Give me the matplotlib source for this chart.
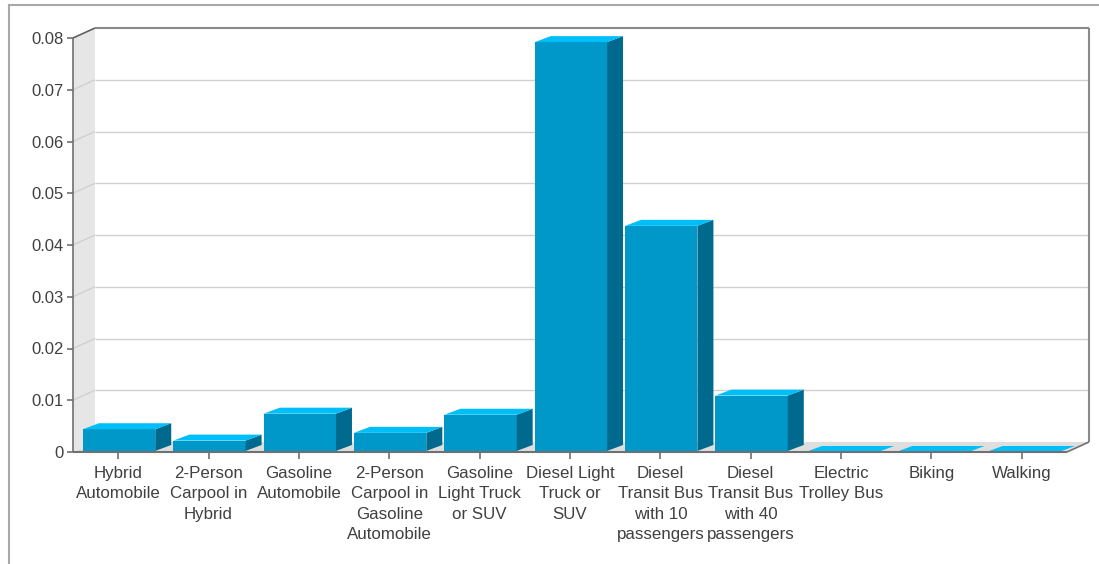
import numpy as np
import matplotlib.pyplot as plt
from matplotlib.patches import Polygon
from matplotlib.lines import Line2D

plt.rcParams['font.family'] = ['Liberation Sans', 'DejaVu Sans']

# emissions per passenger-mile by travel mode
modes = [
    "Hybrid\nAutomobile",
    "2-Person\nCarpool in\nHybrid",
    "Gasoline\nAutomobile",
    "2-Person\nCarpool in\nGasoline\nAutomobile",
    "Gasoline\nLight Truck\nor SUV",
    "Diesel Light\nTruck or\nSUV",
    "Diesel\nTransit Bus\nwith 10\npassengers",
    "Diesel\nTransit Bus\nwith 40\npassengers",
    "Electric\nTrolley Bus",
    "Biking",
    "Walking",
]
values = [0.0044, 0.0022, 0.0074, 0.0037, 0.0072, 0.0792, 0.0437, 0.0109, 0.0, 0.0, 0.0]
yticks = [0, 0.01, 0.02, 0.03, 0.04, 0.05, 0.06, 0.07, 0.08]
ytick_labels = ["0", "0.01", "0.02", "0.03", "0.04", "0.05", "0.06", "0.07", "0.08"]

FRONT = "#0097c9"
TOP = "#00bff8"
SIDE = "#006a8e"
TEXT = "#404040"
EDGE = "#8a8a8a"
GRID = "#d0d0d0"

W, H = 1099, 564
fig = plt.figure(figsize=(W / 100, H / 100), dpi=100)
# front plane of the chart box, in pixels
left, right, bottom, top = 73, 1067, 452, 38
ax = fig.add_axes([left / W, (H - bottom) / H, (right - left) / W, (bottom - top) / H])
n = len(modes)
ax.set_xlim(-0.5, n - 0.5)
ax.set_ylim(0, 0.08)
for s in ax.spines.values():
    s.set_visible(False)
ax.patch.set_visible(False)

# pixel -> data scale for the depth offsets
ux = (n) / (right - left)
uy = 0.08 / (bottom - top)
wall_dx, wall_dy = 22 * ux, 10 * uy
bar_dx, bar_dy = 16 * ux, 6 * uy

x0, x1 = -0.5, n - 0.5

def poly(pts, color, z, **kw):
    ax.add_patch(Polygon(pts, closed=True, facecolor=color, edgecolor="none",
                         zorder=z, clip_on=False, **kw))

def line(xs, ys, color, lw, z):
    ax.plot(xs, ys, color=color, lw=lw, zorder=z, clip_on=False,
            solid_capstyle="butt")

# side wall and floor
poly([(x0, 0), (x0, 0.08), (x0 + wall_dx, 0.08 + wall_dy), (x0 + wall_dx, wall_dy)], "#e6e6e6", 0)
poly([(x0, 0), (x1, 0), (x1 + wall_dx, wall_dy), (x0 + wall_dx, wall_dy)], "#dedede", 0)

# gridlines on back wall and their diagonals on the side wall
for yv in yticks[1:-1]:
    line([x0 + wall_dx, x1 + wall_dx], [yv + wall_dy] * 2, GRID, 1.0, 1)
    line([x0, x0 + wall_dx], [yv, yv + wall_dy], GRID, 1.0, 1)

# box edges
line([x0 + wall_dx, x1 + wall_dx], [0.08 + wall_dy] * 2, EDGE, 1.5, 1)
line([x1 + wall_dx, x1 + wall_dx], [wall_dy, 0.08 + wall_dy], EDGE, 1.5, 1)
line([x0, x0 + wall_dx], [0.08, 0.08 + wall_dy], "#606060", 1.2, 5)
line([x0, x0], [0, 0.08], "#707070", 1.2, 5)
line([x0, x1], [0, 0], "#707070", 1.5, 5)
line([x1, x1 + wall_dx], [0, wall_dy], "#707070", 1.2, 5)

# 3-d bars
half = 0.4
for i, v in enumerate(values):
    a, b = i - half + 0.01, i + half + 0.01
    y0 = 0.0002
    if v > 0:
        poly([(a, y0), (b, y0), (b, v), (a, v)], FRONT, 3)
        poly([(b, y0), (b + bar_dx, y0 + bar_dy), (b + bar_dx, v + bar_dy), (b, v)], SIDE, 3)
    poly([(a, v), (b, v), (b + bar_dx, v + bar_dy), (a + bar_dx, v + bar_dy)], TOP, 3)

# ticks and labels
ax.set_yticks(yticks, ytick_labels)
ax.set_xticks(range(n), modes)
ax.tick_params(axis="y", length=4, width=1.2, color="#707070", pad=3,
               labelsize=12, labelcolor=TEXT)
ax.tick_params(axis="x", length=5, width=1.2, color="#707070", pad=5,
               labelsize=12.2, labelcolor=TEXT)
for lab in ax.get_xticklabels():
    lab.set_linespacing(1.45)

# outer frame
fig.add_artist(Line2D([9 / W, 1], [1 - 5 / H, 1 - 5 / H], color="#a8a8a8", lw=1.5))
fig.add_artist(Line2D([9 / W, 9 / W], [0, 1 - 5 / H], color="#a8a8a8", lw=1.5))

fig.savefig("out.png", dpi=100)
